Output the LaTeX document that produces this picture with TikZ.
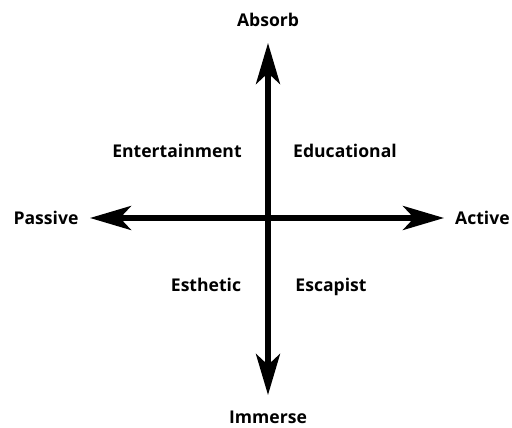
\documentclass[tikz,border=0pt]{standalone}
\usepackage{fontspec}
\setmainfont{Open Sans}
\usetikzlibrary{arrows.meta, positioning}

\tikzset{
    axis/.style={line width=3pt, -{Stealth[length=0.82cm, width=0.48cm, inset=0.22cm]}},
    label/.style={font=\bfseries\fontsize{10}{12}\selectfont, anchor=base}
}

\begin{document}
\begin{tikzpicture}[x=0.02cm, y=-0.02cm]
    \useasboundingbox (0, 0) rectangle (512, 428);

    % --- Achsen ---
    \coordinate (o) at (268, 218);
    \coordinate (top) at (268, 43);
    \coordinate (bottom) at (268, 395);
    \coordinate (left) at (90, 218);
    \coordinate (right) at (444, 218);

    \draw[axis] (o) -- (top);
    \draw[axis] (o) -- (bottom);
    \draw[axis] (o) -- (left);
    \draw[axis] (o) -- (right);

    % --- Achsenbeschriftung ---
    \node[label] (absorb) at (268, 27) {Absorb};
    \node[label] (immerse) at (268, 424) {Immerse};
    \node[label] (passive) at (46, 225) {Passive};
    \node[label, anchor=base east, inner xsep=0pt] (active) at (510, 225) {Active};

    % --- Quadranten ---
    \node[label] (entertainment) at (177, 158) {Entertainment};
    \node[label] (educational) at (345, 158) {Educational};
    \node[label] (esthetic) at (206, 292) {Esthetic};
    \node[label] (escapist) at (331, 292) {Escapist};
\end{tikzpicture}
\end{document}
